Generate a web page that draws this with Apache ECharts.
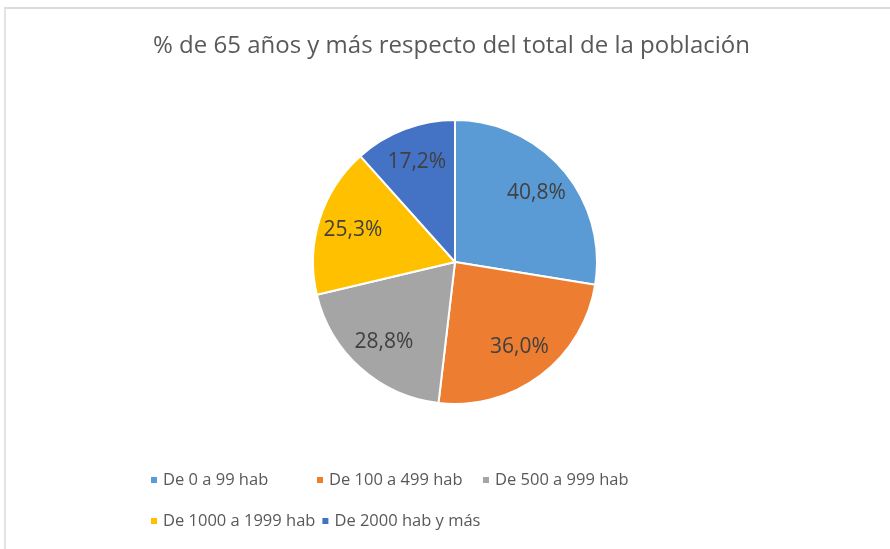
<!DOCTYPE html>
<html>
<head>
<meta charset="utf-8">
<script src="https://cdn.jsdelivr.net/npm/echarts@6/dist/echarts.min.js"></script>
<style>
  html, body { margin: 0; padding: 0; background: #fff; }
  #frame { position: absolute; left: 4px; top: 7px; width: 900px; height: 560px;
           border-top: 2px solid #dcdcdc; border-left: 2px solid #e4e4e4; }
  #main { position: absolute; left: 0; top: 0; width: 890px; height: 549px; }
</style>
</head>
<body>
<div id="frame"></div>
<div id="main"></div>
<script>
var categories = ['De 0 a 99 hab', 'De 100 a 499 hab', 'De 500 a 999 hab', 'De 1000 a 1999 hab', 'De 2000 hab y más'];
var values = [40.8, 36.0, 28.8, 25.3, 17.2];
var colors = ['#5b9bd5', '#ed7d31', '#a5a5a5', '#ffc000', '#4472c4'];

var dom = document.getElementById('main');
var myChart = echarts.init(dom, null, { renderer: 'canvas' });

var data = categories.map(function (c, i) {
	return { name: c, value: values[i] };
});

var fmt = function (p) {
	return p.value.toFixed(1).replace('.', ',') + '%';
};

var option = {
	color: colors,
	animation: false,
	title: {
		text: '% de 65 años y más respecto del total de la población',
		left: 148,
		top: 29,
		textStyle: {
			fontFamily: 'Open Sans',
			fontWeight: 'normal',
			fontSize: 24,
			color: '#595959'
		}
	},
	legend: {
		left: 144,
		top: 457,
		width: 630,
		itemWidth: 8,
		itemHeight: 8,
		itemGap: 5,
		icon: 'rect',
		data: categories,
		textStyle: {
			fontFamily: 'Open Sans',
			fontSize: 16.5,
			color: '#595959',
			width: 147,
			lineHeight: 36
		}
	},
	series: [{
		type: 'pie',
		center: [455, 262],
		radius: [0, 142],
		startAngle: 90,
		clockwise: true,
		data: data,
		label: { show: false },
		labelLine: { show: false },
		itemStyle: { borderColor: '#fff', borderWidth: 2 }
	}, {
		// label-only ring so labels sit further out like Excel
		type: 'pie',
		silent: true,
		center: [455, 262],
		radius: [0, 208],
		startAngle: 90,
		clockwise: true,
		data: data,
		itemStyle: { color: 'rgba(0,0,0,0)' },
		label: {
			show: true,
			position: 'inside',
			formatter: fmt,
			fontFamily: 'Open Sans',
			fontSize: 21,
			color: '#404040'
		},
		labelLine: { show: false },
		emphasis: { disabled: true }
	}]
};

myChart.setOption(option);
window.addEventListener('resize', myChart.resize);
</script>
</body>
</html>
